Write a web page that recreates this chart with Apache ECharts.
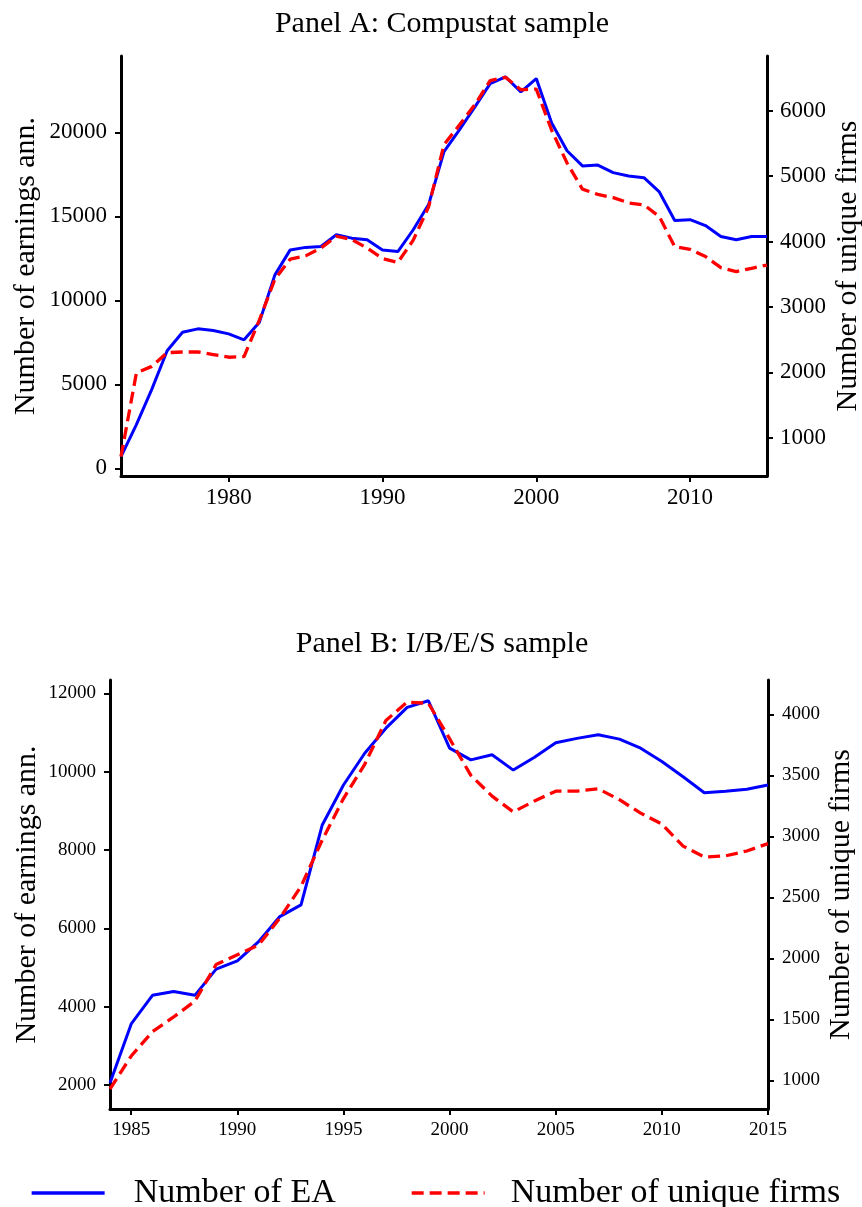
<!DOCTYPE html>
<html>
<head>
<meta charset="utf-8">
<script src="https://cdn.jsdelivr.net/npm/echarts@6/dist/echarts.min.js"></script>
<style>
html,body{margin:0;padding:0;background:#fff;}
#chart{width:862px;height:1207px;}
</style>
</head>
<body>
<div id="chart"></div>
<script>
// ---------- DATA ----------
const yearsA = [1973,1974,1975,1976,1977,1978,1979,1980,1981,1982,1983,1984,1985,1986,1987,1988,1989,1990,1991,1992,1993,1994,1995,1996,1997,1998,1999,2000,2001,2002,2003,2004,2005,2006,2007,2008,2009,2010,2011,2012,2013,2014,2015];
const eaA = [690,2600,4700,7000,8100,8300,8200,8000,7650,8700,11500,13000,13150,13200,13900,13700,13600,13000,12900,14200,15700,18850,20150,21500,22900,23300,22400,23200,20550,18900,18000,18050,17600,17400,17300,16450,14750,14800,14450,13800,13600,13800,13800];
const firmsA = [710,1990,2090,2300,2310,2310,2270,2230,2240,2800,3420,3730,3780,3900,4080,4030,3900,3740,3680,4020,4530,5480,5780,6090,6460,6510,6320,6330,5700,5200,4800,4720,4670,4590,4560,4380,3920,3880,3770,3600,3540,3590,3640];

const yearsB = [1984,1985,1986,1987,1988,1989,1990,1991,1992,1993,1994,1995,1996,1997,1998,1999,2000,2001,2002,2003,2004,2005,2006,2007,2008,2009,2010,2011,2012,2013,2014,2015];
const eaB = [2050,3560,4290,4390,4290,4960,5170,5660,6300,6600,8640,9660,10470,11110,11640,11810,10600,10300,10430,10040,10370,10740,10850,10940,10830,10600,10260,9870,9460,9500,9550,9660];
const firmsB = [930,1200,1400,1520,1650,1950,2030,2110,2330,2590,2970,3310,3590,3950,4100,4090,3800,3500,3330,3200,3290,3370,3370,3390,3300,3190,3100,2920,2830,2840,2880,2940];

// tick labels
const xTicksA = [1980,1990,2000,2010];
const yLeftTicksA = [0,5000,10000,15000,20000];
const yRightTicksA = [1000,2000,3000,4000,5000,6000];
const xTicksB = [1985,1990,1995,2000,2005,2010,2015];
const yLeftTicksB = [2000,4000,6000,8000,10000,12000];
const yRightTicksB = [1000,1500,2000,2500,3000,3500,4000];

const titles = ['Panel A: Compustat sample','Panel B: I/B/E/S sample'];
const leftName = 'Number of earnings ann.';
const rightName = 'Number of unique firms';
const seriesNames = ['Number of EA','Number of unique firms'];

// ---------- STYLE ----------
const FONT = 'Liberation Serif';
const BLUE = '#0000ff', RED = '#ff0000';
const pair = (xs, ys) => xs.map((x, i) => [x, ys[i]]);

function axisCommon(ticks, fontSize, margin) {
  return {
    axisLine: {show: true, onZero: false, lineStyle: {color: '#000', width: 3}},
    axisTick: {show: true, inside: false, length: 6, lineStyle: {color: '#000', width: 2}, customValues: ticks},
    axisLabel: {color: '#000', fontFamily: FONT, fontSize: fontSize, margin: margin, customValues: ticks,
                formatter: v => String(v)},
    splitLine: {show: false},
    minorTick: {show: false}
  };
}

const chart = echarts.init(document.getElementById('chart'), null, {renderer: 'canvas'});

function legendItem(name, left, pad, color, dash) {
  return {
    data: [{name: name, itemStyle: {opacity: 0, borderWidth: 0},
            lineStyle: {color: color, width: 3.3, type: dash, opacity: 1}}],
    left: left, top: 1176, itemWidth: 73, itemHeight: 12, padding: 0,
    textStyle: {fontFamily: FONT, fontSize: 34, color: '#000', padding: [0,0,0,pad]}
  };
}

const nameStyle = {fontFamily: FONT, fontSize: 30, color: '#000'};

const option = {
  backgroundColor: '#fff',
  animation: false,
  title: [
    {text: titles[0], left: 437, top: 4, textAlign: 'center',
     textStyle: {fontFamily: FONT, fontWeight: 'normal', fontSize: 30, color: '#000'}},
    {text: titles[1], left: 437, top: 624, textAlign: 'center',
     textStyle: {fontFamily: FONT, fontWeight: 'normal', fontSize: 30, color: '#000'}}
  ],
  legend: [
    legendItem(seriesNames[0], 30, 24, BLUE, 'solid'),
    legendItem(seriesNames[1], 410, 21, RED, [12, 6])
  ],
  grid: [
    {left: 121, right: 95, top: 56, height: 420, containLabel: false, outerBoundsMode: 'none'},
    {left: 110, right: 94, top: 680, height: 429, containLabel: false, outerBoundsMode: 'none'}
  ],
  xAxis: [
    Object.assign({type: 'value', gridIndex: 0, min: 1973, max: 2015}, axisCommon(xTicksA, 23, 10)),
    Object.assign({type: 'value', gridIndex: 1, min: 1984, max: 2015}, axisCommon(xTicksB, 19, 12))
  ],
  yAxis: [
    Object.assign({type: 'value', gridIndex: 0, position: 'left', min: -458, max: 24542,
      name: leftName, nameLocation: 'middle', nameGap: 80, nameRotate: 90, nameMoveOverlap: false,
      nameTextStyle: nameStyle}, axisCommon(yLeftTicksA, 23, 14)),
    Object.assign({type: 'value', gridIndex: 0, position: 'right', min: 414, max: 6836,
      name: rightName, nameLocation: 'middle', nameGap: 66, nameRotate: 90, nameMoveOverlap: false,
      nameTextStyle: nameStyle}, axisCommon(yRightTicksA, 23, 13)),
    Object.assign({type: 'value', gridIndex: 1, position: 'left', min: 1388, max: 12340,
      name: leftName, nameLocation: 'middle', nameGap: 68, nameRotate: 90, nameMoveOverlap: false,
      nameTextStyle: nameStyle}, axisCommon(yLeftTicksB, 19, 14)),
    Object.assign({type: 'value', gridIndex: 1, position: 'right', min: 766, max: 4281,
      name: rightName, nameLocation: 'middle', nameGap: 58, nameRotate: 90, nameMoveOverlap: false,
      nameTextStyle: nameStyle}, axisCommon(yRightTicksB, 19, 14))
  ],
  series: [
    {name: seriesNames[0], type: 'line', xAxisIndex: 0, yAxisIndex: 0, data: pair(yearsA, eaA),
     showSymbol: false, symbol: 'none', lineStyle: {color: BLUE, width: 3}, itemStyle: {color: BLUE}, z: 3},
    {name: seriesNames[1], type: 'line', xAxisIndex: 0, yAxisIndex: 1, data: pair(yearsA, firmsA),
     showSymbol: false, symbol: 'none', lineStyle: {color: RED, width: 3.3, type: [12, 6]}, itemStyle: {color: RED}, z: 4},
    {name: seriesNames[0], type: 'line', xAxisIndex: 1, yAxisIndex: 2, data: pair(yearsB, eaB),
     showSymbol: false, symbol: 'none', lineStyle: {color: BLUE, width: 3}, itemStyle: {color: BLUE}, z: 3},
    {name: seriesNames[1], type: 'line', xAxisIndex: 1, yAxisIndex: 3, data: pair(yearsB, firmsB),
     showSymbol: false, symbol: 'none', lineStyle: {color: RED, width: 3.3, type: [12, 6]}, itemStyle: {color: RED}, z: 4}
  ]
};
chart.setOption(option);
</script>
</body>
</html>
